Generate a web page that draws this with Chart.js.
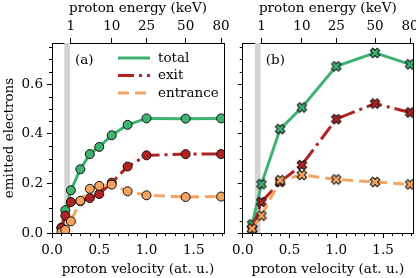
<!DOCTYPE html>
<html>
<head>
<meta charset="UTF-8">
<title>emitted electrons</title>
<script src="https://cdn.jsdelivr.net/npm/chart.js"></script>
<style>
  html, body { margin: 0; padding: 0; background: #fff; overflow: hidden; }
  #wrap { position: relative; width: 416px; height: 278px; }
  canvas { position: absolute; top: 0; }
</style>
</head>
<body>
<div id="wrap">
  <canvas id="chartA" width="240" height="278" style="left:0px"></canvas>
  <canvas id="chartB" width="200" height="278" style="left:228px"></canvas>
</div>
<script>
// panel (a): proton velocity (at. u.) and emitted electrons
const velA      = [0.1, 0.141, 0.2, 0.3, 0.4, 0.5, 0.632, 0.8, 1.0, 1.414, 1.789];
const totalA    = [0.022, 0.092, 0.172, 0.257, 0.318, 0.347, 0.394, 0.436, 0.462, 0.461, 0.462];
const exitA     = [0.02, 0.07, 0.125, 0.128, 0.141, 0.157, 0.203, 0.268, 0.313, 0.318, 0.318];
const entranceA = [0.003, 0.012, 0.047, 0.13, 0.178, 0.19, 0.195, 0.168, 0.152, 0.145, 0.147];

// panel (b)
const velB      = [0.1, 0.2, 0.4, 0.632, 1.0, 1.414, 1.789];
const totalB    = [0.035, 0.197, 0.419, 0.506, 0.672, 0.726, 0.68];
const exitB     = [0.015, 0.125, 0.206, 0.274, 0.459, 0.522, 0.486];
const entranceB = [0.018, 0.07, 0.213, 0.234, 0.216, 0.206, 0.196];

// axes
const velTicks = [0, 0.5, 1.0, 1.5];
const energyTicks = [1, 10, 25, 50, 80];   // keV, v = sqrt(E / 25 keV)
const yTicks = [0, 0.2, 0.4, 0.6];
const X_MAX = 1.82, Y_MAX = 0.766;
const band = [0.13, 0.19];

const GREEN = '#3cb371', RED = '#b22222', ORANGE = '#f4a460';
const FONT = "'DejaVu Serif', serif";
const FSIZE = 13.5;

Chart.defaults.font.family = FONT;
Chart.defaults.font.size = FSIZE;
Chart.defaults.color = '#000';

// filled "X" marker with black edge
function xMarker(color) {
  const c = document.createElement('canvas');
  c.width = 14; c.height = 14;
  const g = c.getContext('2d');
  const L = 4.9, w = 1.8;
  const pts = [[-w,-L],[w,-L],[w,-w],[L,-w],[L,w],[w,w],[w,L],[-w,L],[-w,w],[-L,w],[-L,-w],[-w,-w]];
  g.translate(7, 7);
  g.rotate(Math.PI / 4);
  g.beginPath();
  pts.forEach((p, i) => i ? g.lineTo(p[0], p[1]) : g.moveTo(p[0], p[1]));
  g.closePath();
  g.fillStyle = color;
  g.fill();
  g.lineWidth = 1;
  g.strokeStyle = '#111';
  g.stroke();
  return c;
}

function pts(xs, ys) { return xs.map((x, i) => ({ x: x, y: ys[i] })); }

function series(label, xs, ys, color, dash, marker, order) {
  return {
    label: label,
    data: pts(xs, ys),
    borderColor: color,
    backgroundColor: color,
    borderWidth: 3,
    borderDash: dash,
    borderCapStyle: 'butt',
    tension: 0,
    pointStyle: marker === 'circle' ? 'circle' : xMarker(color),
    pointRadius: 4.5,
    pointBorderWidth: 1,
    pointBorderColor: '#111',
    pointBackgroundColor: color,
    order: order
  };
}

// minor ticks, right spine, shaded band, panel label and legend
const decorations = {
  id: 'decorations',
  beforeDatasetsDraw(chart) {
    const { ctx, chartArea: a, scales } = chart;
    const x0 = scales.x.getPixelForValue(band[0]);
    const x1 = scales.x.getPixelForValue(band[1]);
    ctx.save();
    ctx.fillStyle = '#d3d3d3';
    ctx.fillRect(x0, a.top, x1 - x0, a.bottom - a.top);
    ctx.restore();
  },
  afterDraw(chart, args, opts) {
    const { ctx, chartArea: a, scales } = chart;
    ctx.save();
    ctx.strokeStyle = '#000';
    ctx.lineWidth = 1;
    ctx.beginPath();
    for (let i = 1; i <= 18; i++) {
      if (i % 5 === 0) continue;
      const px = Math.round(scales.x.getPixelForValue(i / 10)) + 0.5;
      ctx.moveTo(px, a.bottom); ctx.lineTo(px, a.bottom + 3);
    }
    for (let i = 1; i <= 15; i++) {
      if (i % 4 === 0) continue;
      const py = Math.round(scales.y.getPixelForValue(i * 0.05)) + 0.5;
      ctx.moveTo(a.left, py); ctx.lineTo(a.left - 3, py);
    }
    ctx.moveTo(Math.round(a.right) + 0.5, a.top);
    ctx.lineTo(Math.round(a.right) + 0.5, a.bottom);
    ctx.stroke();

    ctx.fillStyle = '#000';
    ctx.font = FSIZE + 'px ' + FONT;
    ctx.textBaseline = 'middle';
    ctx.textAlign = 'left';
    ctx.fillText(opts.panel, a.left + 23, a.top + 17);

    if (opts.legend) {
      chart.data.datasets.forEach((ds, i) => {
        const y = a.top + 15 + i * 17.5;
        ctx.beginPath();
        ctx.strokeStyle = ds.borderColor;
        ctx.lineWidth = 3;
        ctx.lineCap = 'butt';
        ctx.setLineDash(ds.borderDash || []);
        ctx.moveTo(a.left + 66, y);
        ctx.lineTo(a.left + 98, y);
        ctx.stroke();
        ctx.setLineDash([]);
        ctx.fillStyle = '#000';
        ctx.fillText(ds.label, a.left + 106, y);
      });
    }
    ctx.restore();
  }
};

function makeScales(first) {
  return {
    x: {
      type: 'linear', position: 'bottom', min: 0, max: X_MAX,
      afterBuildTicks: s => { s.ticks = velTicks.map(v => ({ value: v })); },
      grid: { drawOnChartArea: false, tickLength: 5, tickColor: '#000' },
      border: { color: '#000', width: 1 },
      ticks: { padding: 4, maxRotation: 0, callback: v => v.toFixed(1) },
      title: { display: true, text: 'proton velocity (at. u.)', padding: { top: 0, bottom: 0 } },
      afterFit: s => { s.height = 45; }
    },
    xTop: {
      type: 'linear', position: 'top', min: 0, max: X_MAX,
      afterBuildTicks: s => { s.ticks = energyTicks.map(e => ({ value: Math.sqrt(e / 25) })); },
      grid: { drawOnChartArea: false, tickLength: 5, tickColor: '#000' },
      border: { color: '#000', width: 1 },
      ticks: { padding: 3, maxRotation: 0, callback: (v, i) => String(energyTicks[i]) },
      title: { display: true, text: 'proton energy (keV)', padding: { top: 0, bottom: 0 } },
      afterFit: s => { s.height = 43; }
    },
    y: {
      type: 'linear', position: 'left', min: 0, max: Y_MAX,
      afterBuildTicks: s => { s.ticks = yTicks.map(v => ({ value: v })); },
      grid: { drawOnChartArea: false, tickLength: 5, tickColor: '#000' },
      border: { color: '#000', width: 1 },
      ticks: { display: first, padding: 4, callback: v => v.toFixed(1) },
      title: { display: first, text: 'emitted electrons', padding: { top: 1.5, bottom: 0 } },
      afterFit: s => { s.width = first ? 52 : 13; }
    }
  };
}

function makeChart(id, datasets, first, padRight) {
  return new Chart(document.getElementById(id).getContext('2d'), {
    type: 'line',
    data: { datasets: datasets },
    options: {
      responsive: false,
      animation: false,
      layout: { padding: { left: 0, top: 0, bottom: 0, right: padRight } },
      scales: makeScales(first),
      plugins: {
        legend: { display: false },
        tooltip: { enabled: false },
        decorations: { panel: first ? '(a)' : '(b)', legend: first }
      }
    },
    plugins: [decorations]
  });
}

makeChart('chartA', [
  series('total', velA, totalA, GREEN, [], 'circle', 3),
  series('exit', velA, exitA, RED, [16, 5, 3, 5], 'circle', 2),
  series('entrance', velA, entranceA, ORANGE, [11, 6], 'circle', 1)
], true, 16);

makeChart('chartB', [
  series('total', velB, totalB, GREEN, [], 'x', 3),
  series('exit', velB, exitB, RED, [16, 5, 3, 5], 'x', 2),
  series('entrance', velB, entranceB, ORANGE, [11, 6], 'x', 1)
], false, 15);
</script>
</body>
</html>
